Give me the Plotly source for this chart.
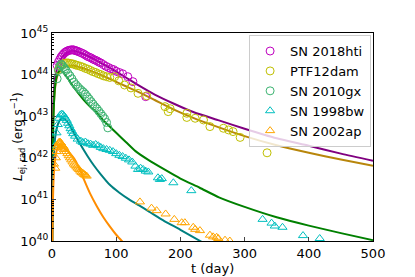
import plotly.graph_objects as go

# ---------------- model curves (t in days, log10 L) ----------------
hti_model_t = [0.2, 1, 2, 3, 5, 8, 12, 18, 25, 33, 45, 60, 75, 95, 115, 135, 160, 190, 220, 260, 300, 350, 400, 450, 500]
hti_model_logL = [40.5, 42.5, 43.3, 43.6, 43.95, 44.15, 44.32, 44.46, 44.54, 44.575, 44.52, 44.42, 44.29, 44.12, 43.93, 43.74, 43.52, 43.3, 43.1, 42.9, 42.7, 42.47, 42.29, 42.1, 41.93]

ptf_model_t = [0.2, 1, 2, 3, 5, 8, 12, 18, 25, 33, 45, 60, 75, 95, 115, 135, 160, 190, 220, 260, 300, 350, 400, 450, 500]
ptf_model_logL = [40.0, 42.0, 42.9, 43.3, 43.7, 43.95, 44.08, 44.17, 44.21, 44.22, 44.17, 44.09, 44.0, 43.86, 43.72, 43.58, 43.39, 43.16, 42.96, 42.73, 42.52, 42.3, 42.12, 41.96, 41.81]

gx_model_t = [0.2, 1, 2, 3, 5, 8, 12, 16, 20, 25, 30, 40, 50, 60, 70, 80, 90, 100, 115, 130, 150, 175, 200, 230, 260, 300, 350, 400, 450, 500]
gx_model_logL = [39.8, 41.8, 42.8, 43.3, 43.75, 44.0, 44.1, 44.08, 44.0, 43.9, 43.78, 43.57, 43.38, 43.22, 43.08, 42.9, 42.75, 42.6, 42.38, 42.16, 41.95, 41.72, 41.5, 41.28, 41.05, 40.82, 40.57, 40.37, 40.19, 40.02]

bw_model_t = [0.2, 1, 2, 3, 5, 8, 12, 17, 22, 28, 35, 45, 55, 65, 75, 90, 105, 120, 135, 150, 175, 200, 233, 260]
bw_model_logL = [39.0, 40.9, 41.7, 42.1, 42.5, 42.75, 42.9, 42.95, 42.9, 42.77, 42.57, 42.3, 42.05, 41.82, 41.62, 41.35, 41.16, 41.0, 40.86, 40.72, 40.48, 40.27, 39.98, 39.75]

ap_model_t = [0.2, 1, 2, 3, 5, 8, 12, 16, 20, 25, 30, 35, 40, 45, 50, 60, 70, 80, 90, 100, 110, 120]
ap_model_logL = [38.8, 40.6, 41.3, 41.65, 41.98, 42.2, 42.3, 42.28, 42.22, 42.15, 42.07, 41.97, 41.83, 41.66, 41.47, 41.12, 40.83, 40.57, 40.35, 40.15, 39.98, 39.82]

# ---------------- observed data (t in days, log10 L) ----------------
hti_t = [8, 10, 12, 14, 16, 18, 20, 22, 24, 26, 28, 30, 32, 34, 36, 38, 40, 43, 46, 49, 52, 55, 58, 61, 64, 67, 70, 73, 76, 80, 84, 88, 92, 96, 100, 105, 110, 118, 126, 146]
hti_logL = [44.22, 44.3, 44.36, 44.42, 44.46, 44.5, 44.53, 44.55, 44.57, 44.58, 44.59, 44.59, 44.6, 44.59, 44.58, 44.57, 44.56, 44.54, 44.52, 44.5, 44.47, 44.44, 44.42, 44.4, 44.37, 44.35, 44.33, 44.3, 44.28, 44.24, 44.2, 44.17, 44.14, 44.12, 44.08, 44.05, 44.02, 43.95, 43.83, 43.47]

ptf_t = [10, 13, 16, 19, 22, 25, 28, 31, 34, 37, 40, 44, 48, 52, 56, 60, 64, 68, 72, 76, 80, 85, 90, 97.6, 104, 113, 123, 134, 147.5, 176, 181, 184, 210, 210, 223, 236, 246, 267, 275, 282, 293, 335]
ptf_logL = [44.12, 44.2, 44.24, 44.27, 44.28, 44.28, 44.27, 44.26, 44.25, 44.23, 44.22, 44.2, 44.18, 44.15, 44.13, 44.1, 44.07, 44.05, 44.02, 44.0, 43.97, 43.95, 43.93, 43.95, 43.85, 43.75, 43.68, 43.55, 43.49, 43.23, 43.11, 43.18, 43.07, 42.97, 42.95, 42.91, 42.75, 42.71, 42.67, 42.63, 42.49, 42.12]

gx_t = [8, 10, 12, 14, 16, 18, 20, 22, 25, 28, 31, 34, 37, 40, 43, 46, 49, 52, 55, 58, 61, 64, 67, 70, 73, 76, 79, 82, 85, 87]
gx_logL = [43.9, 44.1, 44.2, 44.25, 44.22, 44.18, 44.14, 44.1, 44.03, 43.97, 43.9, 43.82, 43.76, 43.71, 43.66, 43.62, 43.58, 43.53, 43.47, 43.41, 43.35, 43.29, 43.23, 43.18, 43.12, 43.06, 43.0, 42.94, 42.85, 42.72]

bw_t = [5, 7, 9, 11, 13, 15, 17, 19, 21, 23, 25, 27, 29, 31, 33, 36, 40, 45, 48, 52, 56, 60, 64, 68, 72, 76, 80, 85, 90, 95, 100, 105, 110, 115, 120, 125, 130, 134, 138, 142, 146, 150, 165, 168, 171, 189, 217, 328, 342, 347, 359, 391, 417]
bw_logL = [42.3, 42.6, 42.8, 42.95, 43.03, 43.05, 43.04, 43.0, 42.95, 42.9, 42.83, 42.77, 42.7, 42.64, 42.58, 42.52, 42.45, 42.4, 42.37, 42.38, 42.34, 42.33, 42.3, 42.32, 42.29, 42.25, 42.22, 42.2, 42.18, 42.15, 42.1, 42.06, 42.03, 41.99, 41.95, 41.9, 41.8, 41.72, 41.75, 41.72, 41.68, 41.66, 41.52, 41.48, 41.5, 41.4, 41.21, 40.52, 40.43, 40.36, 40.33, 40.13, 40.06]

ap_t = [3, 5, 6, 7, 8, 9, 10, 11, 12, 13, 14, 15, 16, 17, 18, 19, 20, 22, 24, 26, 28, 30, 32, 34, 36, 38, 40, 42, 44, 46, 48, 50, 52, 54,
        137, 155, 163, 177, 190.5, 202, 207, 220, 223, 230.5, 246, 251, 256.5, 259, 269.5, 277]
ap_logL = [41.85, 41.75, 42.0, 42.15, 42.25, 42.3, 42.35, 42.37, 42.38, 42.37, 42.35, 42.32, 42.3, 42.28, 42.26, 42.23, 42.2, 42.15, 42.1, 42.05, 42.0, 41.95, 41.9, 41.85, 41.82, 41.78, 41.75, 41.72, 41.68, 41.65, 41.63, 41.6, 41.58, 41.56,
           40.94, 40.79, 40.73, 40.65, 40.52, 40.44, 40.44, 40.33, 40.28, 40.25, 40.14, 40.1, 40.09, 40.06, 40.02, 40.0]

names = ["SN 2018hti", "PTF12dam", "SN 2010gx", "SN 1998bw", "SN 2002ap"]
y_tick_exponents = [40, 41, 42, 43, 44, 45]
x_tick_values = [0, 100, 200, 300, 400, 500]
x_title = "t (day)"
y_title = "<i>L</i><sub>ej, rad</sub> (erg s<sup>−1</sup>)"

FONT = "DejaVu Sans"

fig = go.Figure()

models = [
    (hti_model_t, hti_model_logL, "#800080"),
    (ptf_model_t, ptf_model_logL, "#b8860b"),
    (gx_model_t, gx_model_logL, "#008000"),
    (bw_model_t, bw_model_logL, "#008080"),
    (ap_model_t, ap_model_logL, "#ff8c00"),
]
for t, lg, c in models:
    fig.add_trace(go.Scatter(x=t, y=[10.0 ** v for v in lg], mode="lines",
                             line=dict(color=c, width=2, shape="spline", smoothing=0.6),
                             showlegend=False, hoverinfo="skip"))

data = [
    (hti_t, hti_logL, "#bf00bf", "circle-open"),
    (ptf_t, ptf_logL, "#bfbf00", "circle-open"),
    (gx_t, gx_logL, "#3cb371", "circle-open"),
    (bw_t, bw_logL, "#00bfbf", "triangle-up-open"),
    (ap_t, ap_logL, "#ffa500", "triangle-up-open"),
]
for (t, lg, c, sym), nm in zip(data, names):
    fig.add_trace(go.Scatter(x=t, y=[10.0 ** v for v in lg], mode="markers", name=nm,
                             marker=dict(symbol=sym, size=8, color=c, line=dict(color=c, width=1))))

minor_vals = [float(k) * 10.0 ** e for e in range(40, 45) for k in range(2, 10)]

# the page body adds an 8px offset at top/left, so the figure is 8px smaller
# plot area: 321 x 208 px
fig.update_layout(
    width=407, height=269,
    margin=dict(l=44, r=42, t=25, b=36),
    paper_bgcolor="white", plot_bgcolor="white",
    font=dict(family=FONT, size=13, color="black"),
    legend=dict(x=0.614, y=0.99, xanchor="left", yanchor="top",
                bgcolor="rgba(255,255,255,0.8)", bordercolor="#cccccc", borderwidth=1,
                font=dict(family=FONT, size=13), tracegroupgap=0),
    xaxis=dict(range=[0, 500], tickvals=x_tick_values, ticks="inside", ticklen=4,
               showline=True, linecolor="black", linewidth=1, mirror=True,
               showgrid=False, zeroline=False, automargin=False),
    yaxis=dict(type="log", range=[40, 45],
               tickvals=[10.0 ** e for e in y_tick_exponents],
               ticktext=["10<sup>%d</sup>" % e for e in y_tick_exponents],
               ticks="inside", ticklen=4,
               minor=dict(tickvals=minor_vals, ticks="inside", ticklen=2, tickcolor="black"),
               showline=True, linecolor="black", linewidth=1, mirror=True,
               showgrid=False, zeroline=False, automargin=False),
    annotations=[
        dict(text=x_title, xref="paper", yref="paper", x=0.5, y=-0.13,
             xanchor="center", yanchor="middle", showarrow=False, font=dict(size=13)),
        dict(text=y_title, xref="paper", yref="paper", x=-0.137, y=0.5, textangle=-90,
             xanchor="left", yanchor="middle", showarrow=False, borderpad=0,
             font=dict(size=12)),
    ],
)

fig.write_html("out.html")
